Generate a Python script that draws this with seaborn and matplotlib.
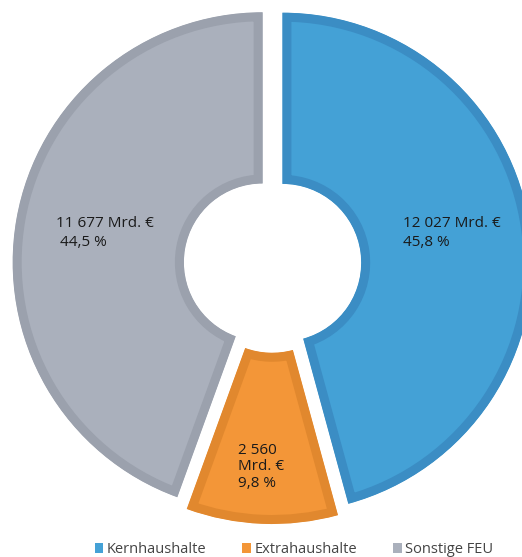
import matplotlib
matplotlib.use("Agg")
import matplotlib.pyplot as plt
from matplotlib.patches import Patch
import seaborn as sns

# data
categories = ["Kernhaushalte", "Extrahaushalte", "Sonstige FEU"]
amounts = ["12 027", "2 560", "11 677"]
shares = [45.8, 9.8, 44.5]
face_colors = ["#44a1d6", "#f39638", "#aab0bc"]
edge_colors = ["#3b8dc4", "#e1882e", "#9ba1ad"]

W, H = 522, 557
CX, CY, R = 272.5, 264.0, 250.0  # pie centre / radius in pixels


def fmt_pct(v):
    return f"{v:.1f}".replace(".", ",") + " %"


def main():
    sns.set_theme(style="white")
    plt.rcParams["font.family"] = ["Open Sans", "DejaVu Sans"]

    fig = plt.figure(figsize=(W / 100, H / 100), dpi=100)
    ax = fig.add_axes([0, 0, 1, 1])

    palette = sns.color_palette(face_colors)
    wedges, _ = ax.pie(
        shares,
        colors=palette,
        startangle=90,
        counterclock=False,
        explode=[0.04] * 3,
        radius=1.0,
        wedgeprops=dict(width=0.685, linewidth=13, joinstyle="miter"),
    )
    # border drawn only inside each wedge
    for w, ec in zip(wedges, edge_colors):
        w.set_edgecolor(ec)
        w.set_clip_on(True)
        w.set_clip_path(w)

    ax.set_xlim(-CX / R, (W - CX) / R)
    ax.set_ylim(-(H - CY) / R, CY / R)
    ax.set_aspect("auto")
    ax.axis("off")

    def px(x, y):
        return (x - CX) / R, (CY - y) / R

    txt = dict(fontsize=11, color="#1a1a1a", ha="left", va="center",
               linespacing=1.35)
    # Kernhaushalte
    ax.text(*px(403, 233), f"{amounts[0]} Mrd. €\n{fmt_pct(shares[0])}", **txt)
    # Sonstige FEU
    ax.text(*px(56, 233), f"{amounts[2]} Mrd. €\n {fmt_pct(shares[2])}", **txt)
    # Extrahaushalte
    ax.text(*px(238, 467), f"{amounts[1]}\nMrd. €\n{fmt_pct(shares[1])}",
            **dict(txt, linespacing=1.15))

    handles = [Patch(facecolor=c, edgecolor="none", label=l)
               for c, l in zip(face_colors, categories)]
    fig.legend(handles=handles, loc="center", ncol=3, frameon=False,
               bbox_to_anchor=(0.563, 0.013), fontsize=10.5,
               handlelength=0.6, handleheight=0.6, handletextpad=0.2,
               columnspacing=2.5, labelcolor="#444444")

    fig.savefig("out.png", dpi=100)


if __name__ == "__main__":
    main()
